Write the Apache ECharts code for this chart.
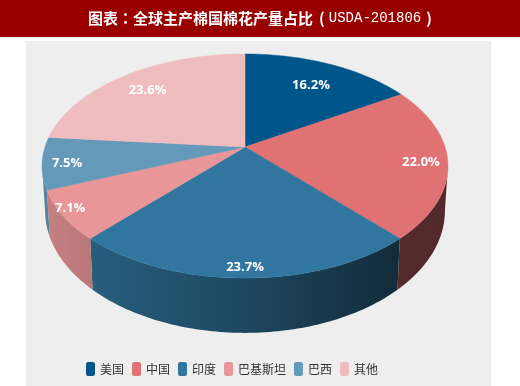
<!DOCTYPE html>
<html>
<head>
<meta charset="utf-8">
<style>html,body{margin:0;padding:0;background:#fff;}</style>
<script src="https://cdn.jsdelivr.net/npm/echarts@6/dist/echarts.min.js"></script>
</head>
<body>
<div id="main" style="width:520px;height:386px;"></div>
<script>
// 数据
var categories = ['美国', '中国', '印度', '巴基斯坦', '巴西', '其他'];
var shares = [16.2, 22.0, 23.7, 7.1, 7.5, 23.6];

// 样式
var colors = ['#00558a', '#e07274', '#31769f', '#e99699', '#6499b9', '#efbcbf'];
var labelRadius = [0.73, 0.87, 0.93, 0.95, 0.88, 0.78];
var labelTurn = [0.9, 1.1, 0, 1.7, -1.3, -0.8];

// 透视饼图参数
var centerX = 245, centerY = 147;
var radiusX = 200, radiusY = 108.8, tilt = 0.17;
var dropY = 43, dropScaleY = 1.09, dropScaleX = 0.985;
var FONT = '"Noto Sans CJK SC"';

var total = 0;
for (var i = 0; i < shares.length; i++) total += shares[i];

// 圆上的点 -> 画面坐标 (deg 从正上方顺时针)
function project(deg, r, bottom) {
    var a = deg * Math.PI / 180;
    var u = Math.sin(a) * r, v = -Math.cos(a) * r;
    var w = 1 - tilt * v;
    var x = radiusX * u / w, y = radiusY * v / w;
    if (bottom) return [centerX + x * dropScaleX, centerY + dropY + y * dropScaleY];
    return [centerX + x, centerY + y];
}

function arcPoints(from, to, bottom) {
    var pts = [];
    var n = Math.max(2, Math.ceil(to - from));
    for (var k = 0; k <= n; k++) pts.push(project(from + (to - from) * k / n, 1, bottom));
    return pts;
}

function shade(color, k) {
    var c = echarts.color.parse(color);
    return 'rgb(' + Math.round(c[0] * k) + ',' + Math.round(c[1] * k) + ',' + Math.round(c[2] * k) + ')';
}

// 侧面左亮右暗
function sideFill(color) {
    return {
        type: 'linear', x: 45, y: 0, x2: 450, y2: 0, global: true,
        colorStops: [
            { offset: 0, color: shade(color, 0.85) },
            { offset: 0.5, color: shade(color, 0.6) },
            { offset: 0.85, color: shade(color, 0.38) },
            { offset: 1, color: shade(color, 0.36) }
        ]
    };
}

// 一个扇区: 侧面 + 顶面 + 标签
function sliceItem(index, startDeg, endDeg) {
    var children = [];
    var rimFrom = Math.acos(-tilt) * 180 / Math.PI;
    var rimTo = 360 - rimFrom;
    var a = Math.max(startDeg, rimFrom), b = Math.min(endDeg, rimTo);
    if (b > a) {
        var side = arcPoints(a, b, false).concat(arcPoints(a, b, true).reverse());
        children.push({
            type: 'polygon', z2: 1,
            shape: { points: side },
            style: { fill: sideFill(colors[index]) }
        });
    }
    var top = [[centerX, centerY]].concat(arcPoints(startDeg, endDeg, false));
    children.push({
        type: 'polygon', z2: 2,
        shape: { points: top },
        style: { fill: colors[index], stroke: colors[index], lineWidth: 0.5 }
    });
    var pos = project((startDeg + endDeg) / 2 + labelTurn[index], labelRadius[index], false);
    children.push({
        type: 'text', z2: 3,
        style: {
            x: pos[0], y: pos[1], text: shares[index].toFixed(1) + '%',
            fill: '#fff', font: 'bold 13px "Open Sans"',
            align: 'center', verticalAlign: 'middle'
        }
    });
    return { type: 'group', children: children };
}

var seriesList = [];
var sum = 0;
categories.forEach(function (name, i) {
    var startDeg = sum / total * 360;
    sum += shares[i];
    var endDeg = sum / total * 360;
    seriesList.push({
        type: 'custom',
        name: name,
        coordinateSystem: 'none',
        itemStyle: { color: colors[i] },
        data: [shares[i]],
        silent: true,
        renderItem: function () { return sliceItem(i, startDeg, endDeg); }
    });
});

var chart = echarts.init(document.getElementById('main'));
chart.setOption({
    animation: false,
    graphic: [
        { type: 'rect', z: -10, shape: { x: 0, y: 0, width: 520, height: 37 }, style: { fill: '#990000' } },
        { type: 'rect', z: -10, shape: { x: 26, y: 41, width: 465, height: 345 }, style: { fill: '#eeeeee' } }
    ],
    title: {
        left: 'center', top: 11, padding: 0,
        text: '{a|图表}{c|：}{a|全球主产棉国棉花产量占比}{l|(}{m|USDA-201806}{r|)}',
        textStyle: {
            rich: {
                a: { color: '#fff', fontSize: 15, fontWeight: 'bold', fontFamily: FONT },
                c: { color: '#fff', fontSize: 15, fontWeight: 'bold', fontFamily: '"Noto Sans CJK TC"' },
                l: { color: '#fff', fontSize: 15, fontWeight: 'bold', fontFamily: FONT, padding: [0, 4, 0, 6] },
                r: { color: '#fff', fontSize: 15, fontWeight: 'bold', fontFamily: FONT, padding: [0, 0, 0, 5] },
                m: { color: '#fff', fontSize: 14, fontWeight: 'normal', fontFamily: '"Liberation Mono"' }
            }
        }
    },
    legend: {
        left: 86, top: 362,
        padding: 0,
        icon: 'roundRect',
        itemWidth: 9, itemHeight: 14, itemGap: 8,
        selectedMode: false,
        textStyle: { fontSize: 12, color: '#333', fontFamily: FONT, padding: [0, 0, 0, 0] },
        data: categories
    },
    series: seriesList
});
</script>
</body>
</html>
